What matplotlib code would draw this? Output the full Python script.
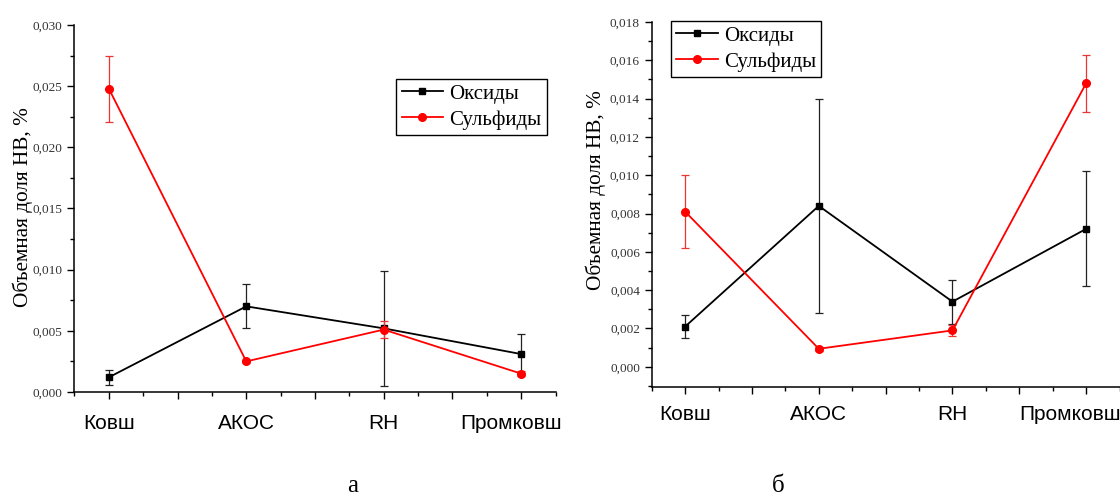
import matplotlib
matplotlib.use("Agg")
import matplotlib.pyplot as plt
from matplotlib.lines import Line2D
from matplotlib.transforms import ScaledTranslation
from matplotlib.ticker import MultipleLocator, FuncFormatter, FixedLocator

categories = ["Ковш", "АКОС", "RH", "Промковш"]
series_names = ["Оксиды", "Сульфиды"]

# Panel а
a_oxides = [0.0012, 0.0070, 0.0052, 0.0031]
a_oxides_err = [0.0006, 0.0018, 0.0047, 0.0016]
a_sulfides = [0.0248, 0.0025, 0.0051, 0.0015]
a_sulfides_err = [0.0027, 0.0001, 0.0007, 0.0002]

# Panel б
b_oxides = [0.0021, 0.0084, 0.0034, 0.0072]
b_oxides_err = [0.0006, 0.0056, 0.00115, 0.0030]
b_sulfides = [0.0081, 0.00094, 0.0019, 0.0148]
b_sulfides_err = [0.0019, 0.0001, 0.0003, 0.0015]

ylabel = "Объемная доля НВ, %"
panel_letters = ["а", "б"]

SERIF = ["Liberation Serif", "DejaVu Serif"]
SANS = ["Liberation Sans", "DejaVu Sans"]

fig = plt.figure(figsize=(11.2, 4.97), dpi=100)
ax_a = fig.add_axes([0.0665, 0.2113, 0.4295, 0.7384])
ax_b = fig.add_axes([0.5819, 0.2219, 0.4177, 0.7338])

comma_fmt = FuncFormatter(lambda v, p: f"{v:.3f}".replace(".", ","))

OX_STYLE = dict(color="black", lw=1.3, marker="s", ms=5)
SU_STYLE = dict(color="#ff0000", lw=1.3, marker="o", ms=5.5)


def draw(ax, ox, ox_err, su, su_err, ylim, ystep, yminor, legend_loc,
         xpad, last_shift):
    x = list(range(len(categories)))
    ax.errorbar(x, ox, yerr=ox_err, ecolor="#222222", elinewidth=0.9,
                capsize=2.8, capthick=0.9, zorder=3, **OX_STYLE)
    ax.errorbar(x, su, yerr=su_err, ecolor="#ee3333", elinewidth=0.9,
                capsize=2.8, capthick=0.9, zorder=4, **SU_STYLE)
    ax.set_xlim(-0.25, 3.25)
    ax.set_ylim(*ylim)
    ax.xaxis.set_major_locator(FixedLocator([0, 0.5, 1, 1.5, 2, 2.5, 3]))
    ax.xaxis.set_minor_locator(FixedLocator([-0.25, 0.25, 0.75, 1.25, 1.75, 2.25, 2.75, 3.25]))
    ax.xaxis.set_major_formatter(FuncFormatter(
        lambda v, p: categories[int(v)] if abs(v - round(v)) < 1e-6 else ""))
    ax.yaxis.set_major_locator(MultipleLocator(ystep))
    ax.yaxis.set_minor_locator(MultipleLocator(yminor))
    ax.yaxis.set_major_formatter(comma_fmt)
    for s in ("top", "right"):
        ax.spines[s].set_visible(False)
    for s in ("left", "bottom"):
        ax.spines[s].set_linewidth(1.1)
    ax.tick_params(which="major", direction="out", length=5, width=1.0)
    ax.tick_params(which="minor", direction="out", length=3, width=1.0)
    ax.tick_params(axis="x", which="major", pad=xpad)
    xlabels = ax.get_xticklabels()
    for lbl in xlabels:
        lbl.set_fontfamily(SANS)
        lbl.set_fontsize(15)
    # the last category label sits slightly left of its tick
    last = xlabels[-1]
    last.set_transform(last.get_transform() +
                       ScaledTranslation(-last_shift / 100, 0, fig.dpi_scale_trans))
    for lbl in ax.get_yticklabels():
        lbl.set_fontfamily(SERIF)
        lbl.set_fontsize(9.5)
        lbl.set_color("#333333")
    ax.set_ylabel(ylabel, fontfamily=SERIF, fontsize=15.3)
    handles = [Line2D([], [], **OX_STYLE), Line2D([], [], **SU_STYLE)]
    leg = ax.legend(handles, series_names, loc="upper left",
                    bbox_to_anchor=legend_loc, frameon=True,
                    fancybox=False, edgecolor="black", framealpha=1,
                    prop={"family": SERIF, "size": 15}, handlelength=2.0,
                    handletextpad=0.3, borderpad=0.25, labelspacing=0.3,
                    borderaxespad=0)
    leg.get_frame().set_linewidth(1.0)


draw(ax_a, a_oxides, a_oxides_err, a_sulfides, a_sulfides_err,
     (0, 0.030), 0.005, 0.0025, (0.669, 0.853), 11, 10)
draw(ax_b, b_oxides, b_oxides_err, b_sulfides, b_sulfides_err,
     (-0.00104, 0.018), 0.002, 0.001, (0.041, 1.003), 8.5, 16)

ax_a.yaxis.set_label_coords(-0.086, 0.504)
ax_b.yaxis.set_label_coords(-0.098, 0.54)

fig.text(353 / 1120, 1 - 486 / 497, panel_letters[0], fontfamily=SERIF,
         fontsize=18, ha="center", va="center")
fig.text(778 / 1120, 1 - 486 / 497, panel_letters[1], fontfamily=SERIF,
         fontsize=18, ha="center", va="center")

fig.savefig("out.png", dpi=100)
